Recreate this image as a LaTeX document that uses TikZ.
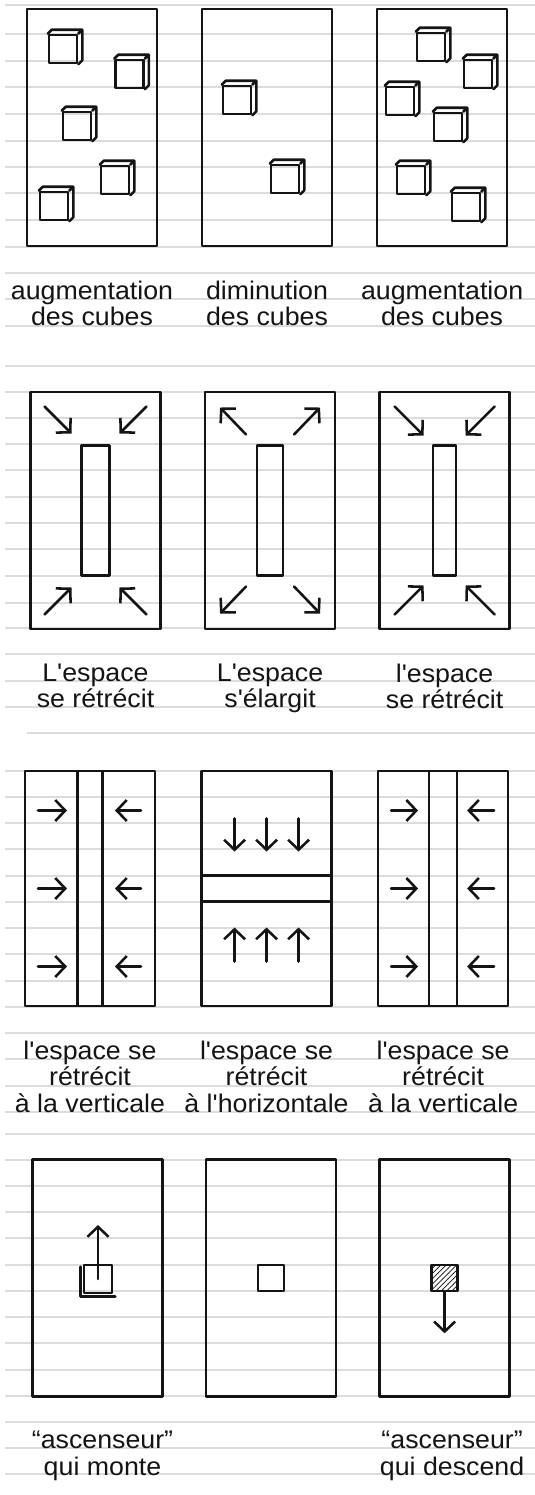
\documentclass[tikz,border=0pt]{standalone}
\usepackage{fontspec}
\newfontfamily\handfont[FakeStretch=1.05]{Liberation Sans}
\usepackage{tikz}
\usetikzlibrary{arrows.meta,positioning,calc,patterns}
\definecolor{inkBlack}{HTML}{141414}
\definecolor{paperRule}{HTML}{DCDCDC}
\tikzset{
    sketch/.style={draw=inkBlack, line width=1.45pt, line join=round, line cap=round},
    panel/.style={
        rectangle,
        sketch,
        minimum width=26mm,
        minimum height=47.4mm,
        inner sep=0pt
    },
    cubeface/.style={rectangle, sketch, minimum size=5.6mm, inner sep=0pt},
    strip/.style={rectangle, sketch, inner sep=0pt},
    % Text and paper
    caption/.style={
        font=\handfont\fontsize{14.5}{15.1}\selectfont,
        text=inkBlack,
        align=center,
        inner sep=0pt
    },
    ruled/.style={draw=paperRule, line width=0.7pt},
    % Arrows
    arr/.style={sketch, -{Straight Barb[length=2mm, width=4.2mm]}}
}
\newcommand{\drawcube}[3]{%
    \node[cubeface] (#1) at (#2,#3) {};
    \draw[sketch] (#1.north west) -- ++(4,-4) -- ($(#1.north east)+(4,-4)$)
        -- ($(#1.south east)+(4,-4)$) -- (#1.south east)
        (#1.north east) -- ++(4,-4);
}

\begin{document}
\begin{tikzpicture}[x=0.2mm, y=-0.2mm]
\useasboundingbox (0,0) rectangle (535,1495);

% lined paper
\foreach \y in {5,34,61,87,114,141,167,193,220,247,273,299,326,
    366,392,418,444,470,497,523,549,576,603,628,654,681,707,
    771,797,823,849,876,902,928,954,981,1007,1033,1059,1086,1112,
    1134,1160,1186,1212,1238,1265,1291,1317,1343,1370,1396,1422,1448,1474}
    \draw[ruled] (5,\y) -- (535,\y);
\draw[ruled] (27,733) -- (535,733);

% row 1: cubes
\node[panel] (p11) at (92,127.5) {};
\node[panel, right=8.5mm of p11] (p12) {};
\node[panel, right=8.5mm of p12] (p13) {};
\drawcube{c11}{63}{49}
\drawcube{c12}{129.5}{74}
\drawcube{c13}{77}{126}
\drawcube{c14}{115}{180}
\drawcube{c15}{54}{206}
\drawcube{c21}{237}{100}
\drawcube{c22}{285}{179}
\drawcube{c31}{431}{47}
\drawcube{c32}{478}{74}
\drawcube{c33}{400}{101}
\drawcube{c34}{448}{127}
\drawcube{c35}{411}{180}
\drawcube{c36}{466}{207}
\node[caption, below=6.6mm of p11] (t11) {augmentation\\des cubes};
\node[caption, below=6.6mm of p12] (t12) {diminution\\des cubes};
\node[caption, below=6.6mm of p13] (t13) {augmentation\\des cubes};

% row 2: the space around a block
\node[panel] (p21) at (95.5,510.5) {};
\node[panel, right=8.4mm of p21] (p22) {};
\node[panel, right=8.4mm of p22] (p23) {};
\node[strip, minimum width=5.6mm, minimum height=26mm] (s21) at (p21) {};
\node[strip, minimum width=5.2mm, minimum height=26mm] (s22) at (p22) {};
\node[strip, minimum width=4.6mm, minimum height=26mm] (s23) at (p23) {};
\foreach \sx in {-1,1} {
    \foreach \sy in {-1,1} {
        \draw[arr] ($(p21)+(51*\sx,104*\sy)$) -- ($(p21)+(24*\sx,77*\sy)$);
        \draw[arr] ($(p22)+(24*\sx,76*\sy)$) -- ($(p22)+(50*\sx,103*\sy)$);
        \draw[arr] ($(p23)+(50*\sx,104*\sy)$) -- ($(p23)+(21*\sx,75*\sy)$);
    }
}
\node[caption, below=6.6mm of p21] (t21) {L'espace\\se rétrécit};
\node[caption, below=6.6mm of p22] (t22) {L'espace\\s'élargit};
\node[caption, below=6.6mm of p23] (t23) {l'espace\\se rétrécit};

% row 3: squeezing along one axis
\node[panel, minimum height=47mm] (p31) at (90,888.5) {};
\node[panel, minimum height=47mm, right=8.8mm of p31] (p32) {};
\node[panel, minimum height=47mm, right=8.8mm of p32] (p33) {};
\node[strip, minimum width=5mm, minimum height=47mm] (s31) at (p31) {};
\node[strip, minimum width=26mm, minimum height=5.2mm] (s32) at (p32) {};
\node[strip, minimum width=5.6mm, minimum height=47mm] (s33) at (p33) {};
\foreach \dy in {-78,0,78} {
    \draw[arr] ($(p31)+(-52,\dy)$) -- ($(p31)+(-23,\dy)$);
    \draw[arr] ($(p31)+(51,\dy)$) -- ($(p31)+(25,\dy)$);
    \draw[arr] ($(p33)+(-52,\dy)$) -- ($(p33)+(-25,\dy)$);
    \draw[arr] ($(p33)+(51,\dy)$) -- ($(p33)+(24,\dy)$);
}
\foreach \dx in {-32,0,32} {
    \draw[arr] ($(p32)+(\dx,-70)$) -- ($(p32)+(\dx,-37)$);
    \draw[arr] ($(p32)+(\dx,73)$) -- ($(p32)+(\dx,39)$);
}
\node[caption, below=6.6mm of p31] (t31) {l'espace se\\rétrécit\\à la verticale};
\node[caption, below=6.6mm of p32] (t32) {l'espace se\\rétrécit\\à l'horizontale};
\node[caption, below=6.6mm of p33] (t33) {l'espace se\\rétrécit\\à la verticale};

% row 4: lift
\node[panel] (p41) at (97.5,1278) {};
\node[panel, right=8.2mm of p41] (p42) {};
\node[panel, right=8.2mm of p42] (p43) {};
\node[cubeface] (q41) at (98,1279) {};
\draw[sketch] ($(q41.north west)+(-2,3)$) |- ($(q41.south east)+(2,2)$);
\draw[arr] (q41.center) -- ++(0,-54);
\node[cubeface, minimum size=5.2mm] (q42) at (p42) {};
\node[cubeface, minimum size=5.2mm, pattern=north east lines, pattern color=inkBlack] (q43) at (p43) {};
\draw[arr] (q43.south) -- ++(0,41);
\node[caption, below=6.6mm of p41, xshift=1mm] (t41) {“ascenseur”\\qui monte};
\node[caption, below=6.6mm of p43, xshift=1.5mm] (t43) {“ascenseur”\\qui descend};
\end{tikzpicture}
\end{document}
